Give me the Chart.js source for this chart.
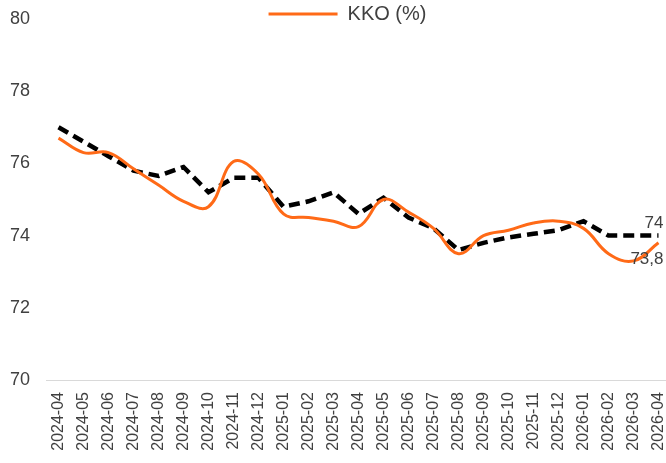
<!DOCTYPE html>
<html>
<head>
<meta charset="utf-8">
<script src="https://cdn.jsdelivr.net/npm/chart.js@4.4.1/dist/chart.umd.min.js"></script>
<style>
  html, body { margin: 0; padding: 0; background: #fff; overflow: hidden; }
  #wrap { width: 695px; height: 463px; }
</style>
</head>
<body>
<div id="wrap"><canvas id="myChart"></canvas></div>
<script>
const aylar = ['2024-04','2024-05','2024-06','2024-07','2024-08','2024-09','2024-10','2024-11','2024-12',
  '2025-01','2025-02','2025-03','2025-04','2025-05','2025-06','2025-07','2025-08','2025-09','2025-10',
  '2025-11','2025-12','2026-01','2026-02','2026-03','2026-04'];
// KKO (%)
const kko = [76.7, 76.3, 76.3, 75.85, 75.4, 74.95, 74.8, 76.05, 75.7,
  74.6, 74.5, 74.4, 74.25, 75.0, 74.65, 74.2, 73.5, 74.0, 74.15,
  74.35, 74.4, 74.2, 73.5, 73.3, 73.8];
// kesikli siyah seri (legendde yok)
const trend = [77.0, 76.6, 76.2, 75.8, 75.65, 75.9, 75.2, 75.6, 75.6,
  74.8, 74.95, 75.2, 74.6, 75.05, 74.5, 74.2, 73.6, 73.8, 73.95,
  74.05, 74.15, 74.4, 74.0, 74.0, 74.0];
const yTicks = [70, 72, 74, 76, 78, 80];
const textColor = '#404040';

// legend kutusu: yerlesimde 19px yer kaplasin, cizimde biraz kaydirilsin
const legendYeri = {
  id: 'legendYeri',
  beforeLayout(chart) {
    const lg = chart.legend;
    if (lg && !lg._yamali) {
      const fit = lg.fit;
      lg.fit = function() { fit.call(this); this.height = 19; };
      lg._yamali = true;
    }
  },
  afterLayout(chart) {
    const lg = chart.legend;
    lg.top = 2;
    lg.bottom = 40;
    lg.left = 24;
    lg.right = chart.chartArea.right;
  }
};

// son degerlerin etiketleri
const sonEtiket = {
  id: 'sonEtiket',
  afterDatasetsDraw(chart) {
    const ctx = chart.ctx;
    ctx.save();
    ctx.font = '17px "Liberation Sans", Arial, sans-serif';
    ctx.fillStyle = textColor;
    ctx.textAlign = 'right';
    ctx.textBaseline = 'middle';
    chart.data.datasets.forEach((ds, i) => {
      const meta = chart.getDatasetMeta(i);
      const last = meta.data[meta.data.length - 1];
      const val = ds.data[ds.data.length - 1];
      const txt = String(val).replace('.', ',');
      const dy = ds.label === 'KKO (%)' ? 16 : -12;
      ctx.fillText(txt, last.x + 5, last.y + dy);
    });
    ctx.restore();
  }
};

const ctx = document.getElementById('myChart');
var myChart = new Chart(ctx, {
  type: 'line',
  data: {
    labels: aylar,
    datasets: [
      { label: 'KKO (%)', data: kko, borderColor: '#ff6a17', backgroundColor: '#ff6a17',
        borderWidth: 3, tension: 0.4, pointRadius: 0, fill: false },
      { label: 'Trend', data: trend, borderColor: '#000000', backgroundColor: '#000000',
        borderWidth: 4.5, borderDash: [11, 6], tension: 0, pointRadius: 0, fill: false }
    ]
  },
  options: {
    responsive: true,
    maintainAspectRatio: false,
    animation: false,
    layout: { padding: { left: 0, right: 24, top: 0, bottom: 0 } },
    plugins: {
      tooltip: { enabled: false },
      legend: {
        position: 'top',
        labels: {
          color: textColor,
          font: { size: 20, family: '"Liberation Sans", Arial, sans-serif' },
          boxWidth: 69,
          boxHeight: 3,
          padding: 2,
          filter: (item) => item.text === 'KKO (%)',
          generateLabels: (chart) => {
            const items = Chart.defaults.plugins.legend.labels.generateLabels(chart);
            items.forEach(it => { it.lineWidth = 0; it.lineDash = []; });
            return items;
          }
        }
      }
    },
    scales: {
      x: {
        offset: true,
        grid: { display: false, drawTicks: false },
        border: { display: true, color: '#d9d9d9', width: 1 },
        ticks: { color: textColor, font: { size: 16, family: '"Liberation Sans", Arial, sans-serif' },
          minRotation: 90, maxRotation: 90, autoSkip: false, padding: 12 },
        afterFit: (scale) => { scale.height = 83; }
      },
      y: {
        min: 70, max: 80,
        grid: { display: false, drawTicks: false },
        border: { display: false },
        afterBuildTicks: (scale) => { scale.ticks = yTicks.map(v => ({ value: v })); },
        ticks: { color: textColor, font: { size: 18, family: '"Liberation Sans", Arial, sans-serif' }, padding: 16 },
        afterFit: (scale) => { scale.width = 46; scale.paddingTop = 0; scale.paddingBottom = 0; }
      }
    }
  },
  plugins: [legendYeri, sonEtiket]
});
</script>
</body>
</html>
